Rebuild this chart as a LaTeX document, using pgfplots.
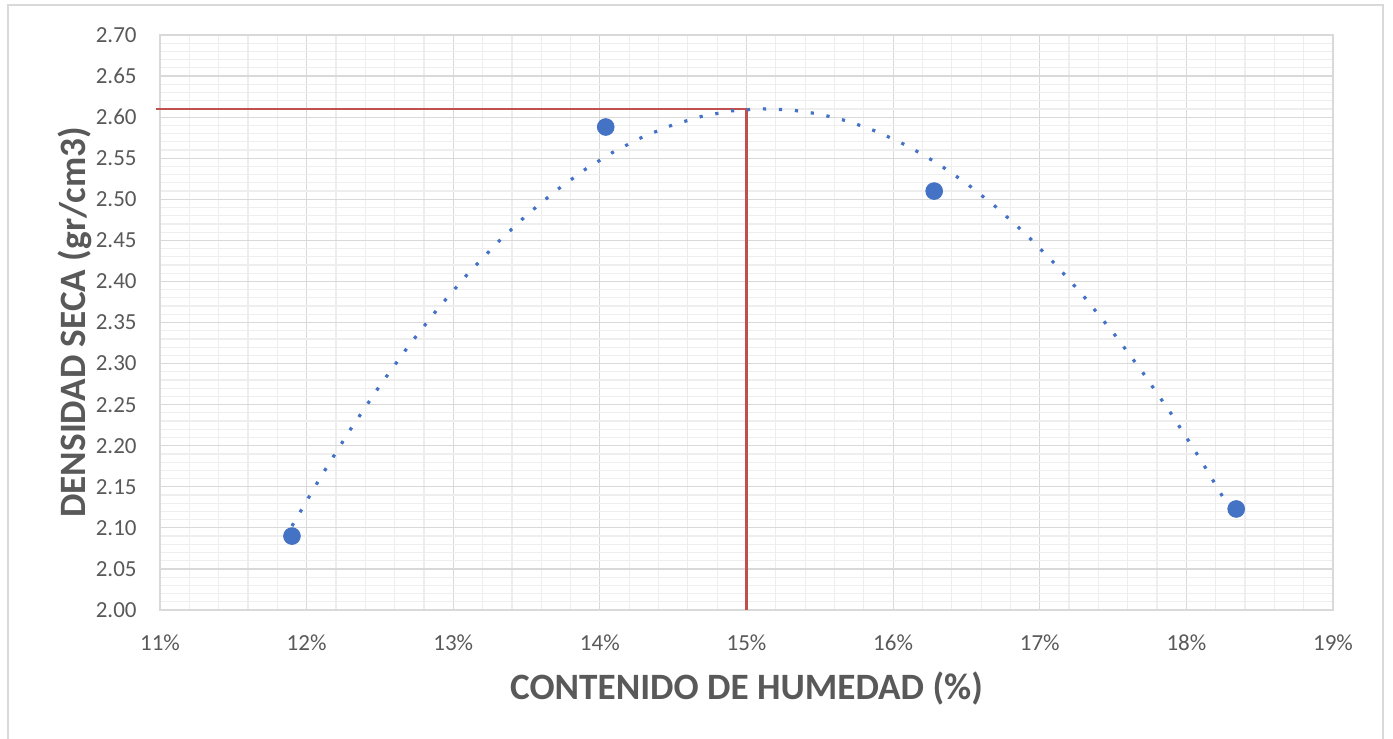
\documentclass[border=0pt]{standalone}
\usepackage{pgfplots}
\pgfplotsset{compat=1.18}
\usepackage{fontspec}
\setmainfont{Carlito}

\definecolor{txt}{HTML}{595959}
\definecolor{gmaj}{HTML}{D9D9D9}
\definecolor{gmin}{HTML}{EEEEEE}
\definecolor{ptblue}{HTML}{4472C4}
\definecolor{optred}{HTML}{C0504D}

\begin{document}
\begin{tikzpicture}
\begin{axis}[
  scale only axis,
  width=586.5pt, height=287.5pt,
  xmin=11, xmax=19,
  ymin=2.00, ymax=2.70,
  clip=false,
  xtick={11,12,13,14,15,16,17,18,19},
  xticklabels={11\%,12\%,13\%,14\%,15\%,16\%,17\%,18\%,19\%},
  ytick={2.00,2.05,2.10,2.15,2.20,2.25,2.30,2.35,2.40,2.45,2.50,2.55,2.60,2.65,2.70},
  yticklabels={2.00,2.05,2.10,2.15,2.20,2.25,2.30,2.35,2.40,2.45,2.50,2.55,2.60,2.65,2.70},
  minor x tick num=4,
  minor y tick num=4,
  grid=both,
  major grid style={gmaj, line width=0.6pt},
  minor grid style={gmin, line width=0.6pt},
  tick style={draw=none},
  axis line style={draw=gmaj, line width=0.6pt},
  tick label style={font=\fontsize{11.5}{13}\selectfont, text=txt},
  xticklabel style={anchor=base, inner sep=0pt, yshift=-20.3pt},
  yticklabel style={anchor=east, inner sep=0pt, xshift=-11.5pt},
  xlabel={CONTENIDO DE HUMEDAD (\%)},
  ylabel={DENSIDAD SECA (gr/cm3)},
  label style={font=\fontsize{18.6}{21}\selectfont\bfseries, text=txt},
  xlabel style={at={(axis description cs:0.5,0)}, anchor=center, yshift=-39.5pt},
  ylabel style={at={(axis description cs:0,0.5)}, anchor=center, yshift=42.5pt},
]
% optimum lines
\addplot[optred, line width=1.4pt, forget plot] coordinates {
  (10.975,2.61) (15,2.61) (15,2.00)
};
% trend line
\addplot[ptblue, line width=1.6pt, dash pattern=on 1.6pt off 6.4pt] coordinates {
  (11.90,2.1022) (12.10,2.1631) (12.30,2.2202) (12.50,2.2733) (12.70,2.3226)
  (12.90,2.3679) (13.10,2.4094) (13.30,2.4470) (13.50,2.4807) (13.70,2.5105)
  (13.90,2.5364) (14.10,2.5585) (14.30,2.5766) (14.50,2.5908) (14.70,2.6012)
  (14.90,2.6077) (15.10,2.6102) (15.30,2.6089) (15.50,2.6037) (15.70,2.5947)
  (15.90,2.5817) (16.10,2.5648) (16.30,2.5441) (16.50,2.5194) (16.70,2.4909)
  (16.90,2.4584) (17.10,2.4221) (17.30,2.3819) (17.50,2.3378) (17.70,2.2898)
  (17.90,2.2380) (18.10,2.1822) (18.34,2.1102)
};
% measured points
\addplot[only marks, mark=*, mark size=4.2pt, ptblue, mark options={draw=ptblue, fill=ptblue}] coordinates {
  (11.90,2.090) (14.04,2.588) (16.28,2.510) (18.34,2.123)
};
\end{axis}
\draw[gmaj, line width=0.8pt] (-76pt,-70pt) rectangle (611.5pt,302.5pt);
\pgfresetboundingbox
\useasboundingbox (-80pt,-64.5pt) rectangle (616.5pt,305pt);
\end{tikzpicture}
\end{document}
